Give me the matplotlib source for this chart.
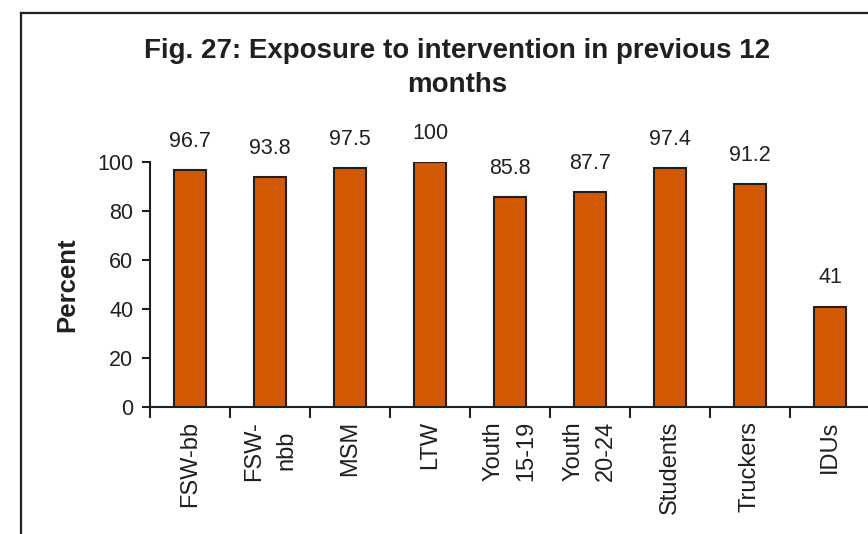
import numpy as np
import matplotlib
matplotlib.use('Agg')
import matplotlib.pyplot as plt
from matplotlib.lines import Line2D

# datos
categorias = ['FSW-bb', 'FSW-\nnbb', 'MSM', 'LTW', 'Youth\n15-19', 'Youth\n20-24',
              'Students', 'Truckers', 'IDUs']
valores = [96.7, 93.8, 97.5, 100, 85.8, 87.7, 97.4, 91.2, 41]
etiquetas = ['96.7', '93.8', '97.5', '100', '85.8', '87.7', '97.4', '91.2', '41']

plt.rcParams['font.family'] = ['Liberation Sans', 'DejaVu Sans']
oscuro = '#231f20'
naranja = '#d35a04'

fig = plt.figure(figsize=(8.68, 5.34), dpi=100)
W, H = 868, 534

# marco exterior (recortado a derecha y abajo)
fig.add_artist(Line2D([21 / W, 21 / W], [0, 1 - 13 / H], color=oscuro, lw=1.6,
                      transform=fig.transFigure))
fig.add_artist(Line2D([21 / W, 1], [1 - 13 / H, 1 - 13 / H], color=oscuro, lw=1.6,
                      transform=fig.transFigure))

ax = fig.add_axes([150 / W, 1 - 407 / H, 720 / W, 245 / H])

x = np.arange(len(categorias))
ax.bar(x, valores, width=0.4, color=naranja, edgecolor=oscuro, linewidth=1.5, zorder=3)

for xi, v, t in zip(x, valores, etiquetas):
    ax.annotate(t, (xi, v), xytext=(0, 13), textcoords='offset points',
                ha='center', va='bottom', fontsize=15.5, color=oscuro)

ax.set_xlim(-0.5, len(categorias) - 0.5)
ax.set_ylim(0, 100)
ax.set_yticks([0, 20, 40, 60, 80, 100])
ax.tick_params(axis='y', labelsize=15.5, colors=oscuro, length=6, width=1.5, pad=6)

# marcas en los limites de categoria, etiquetas en el centro
ax.set_xticks(np.arange(-0.5, len(categorias)), labels=[''] * (len(categorias) + 1))
ax.set_xticks(x, labels=categorias, minor=True)
ax.tick_params(axis='x', which='major', length=8, width=1.5, color=oscuro)
ax.tick_params(axis='x', which='minor', length=0, pad=10, labelsize=17, labelcolor=oscuro)
for lab in ax.get_xticklabels(minor=True):
    lab.set_rotation(90)
    lab.set_linespacing(1.6)
    lab.set_va('top')
    lab.set_ha('center')

for s in ['top', 'right']:
    ax.spines[s].set_visible(False)
for s in ['left', 'bottom']:
    ax.spines[s].set_linewidth(1.5)
    ax.spines[s].set_color(oscuro)

ax.set_ylabel('Percent', fontsize=18.5, fontweight='bold', color=oscuro, labelpad=13)

fig.text(457 / W, 1 - 68 / H, 'Fig. 27: Exposure to intervention in previous 12\nmonths',
         ha='center', va='center', fontsize=20, fontweight='bold', color=oscuro,
         linespacing=1.45)

fig.savefig('out.png', dpi=100)
